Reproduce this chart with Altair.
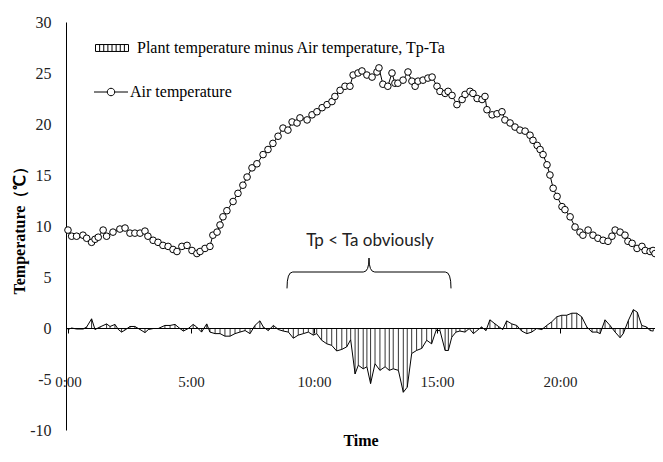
import altair as alt
import pandas as pd

# ---- data ----
ta_time = [0.00, 0.15, 0.35, 0.61, 0.76, 0.96, 1.10, 1.23, 1.43, 1.57,
           1.83, 2.11, 2.32, 2.52, 2.72, 2.93, 3.13, 3.25, 3.46, 3.66,
           3.86, 4.07, 4.27, 4.43, 4.63, 4.84, 5.04, 5.24, 5.37, 5.57,
           5.77, 5.89, 6.06, 6.18, 6.30, 6.46, 6.71, 6.91, 7.11, 7.28,
           7.48, 7.68, 7.93, 8.13, 8.33, 8.54, 8.74, 8.94, 9.11, 9.31,
           9.43, 9.72, 9.92, 10.12, 10.33, 10.53, 10.73, 10.85, 11.06, 11.26,
           11.46, 11.59, 11.79, 11.95, 12.15, 12.36, 12.56, 12.64, 12.80, 13.00,
           13.17, 13.29, 13.41, 13.62, 13.82, 13.98, 14.11, 14.23, 14.43, 14.63,
           14.80, 15.00, 15.12, 15.33, 15.45, 15.61, 15.81, 16.02, 16.14, 16.34,
           16.46, 16.63, 16.83, 16.95, 17.03, 17.24, 17.44, 17.64, 17.76, 17.97,
           18.17, 18.37, 18.58, 18.78, 18.90, 19.07, 19.19, 19.31, 19.47, 19.59,
           19.72, 19.88, 20.08, 20.20, 20.41, 20.61, 20.81, 20.93, 21.14, 21.34,
           21.54, 21.75, 21.95, 22.11, 22.24, 22.44, 22.64, 22.76, 22.93, 23.13,
           23.33, 23.46, 23.66, 23.78, 23.86]
ta_vals = [9.6, 9.0, 9.0, 9.1, 8.8, 8.4, 8.7, 8.9, 9.6, 9.0,
           9.4, 9.7, 9.8, 9.3, 9.3, 9.3, 9.5, 9.0, 8.6, 8.4,
           8.1, 8.0, 7.7, 7.5, 8.0, 8.1, 7.6, 7.3, 7.5, 7.8,
           8.0, 9.1, 9.4, 10.1, 10.9, 11.5, 12.4, 13.2, 14.0, 14.8,
           15.7, 16.1, 17.0, 17.5, 18.1, 18.8, 19.6, 19.4, 20.2, 20.1,
           20.6, 20.4, 20.9, 21.2, 21.6, 21.9, 22.2, 22.7, 23.3, 23.7,
           23.7, 24.8, 25.0, 25.2, 24.8, 24.6, 25.1, 25.5, 23.9, 23.7,
           25.0, 24.0, 24.0, 24.3, 25.1, 24.2, 23.7, 24.2, 24.3, 24.5,
           24.6, 23.7, 23.2, 23.0, 23.2, 22.8, 21.9, 22.4, 22.9, 23.2,
           23.0, 22.5, 22.4, 22.7, 21.4, 20.9, 21.0, 21.2, 20.4, 20.1,
           19.7, 19.4, 19.3, 18.9, 18.4, 17.9, 17.5, 17.0, 16.0, 15.0,
           13.7, 12.9, 11.9, 11.6, 10.9, 9.9, 9.4, 9.1, 9.6, 9.1,
           8.8, 8.6, 8.5, 9.0, 9.6, 9.4, 9.1, 8.5, 8.3, 7.8,
           8.0, 7.6, 7.5, 7.6, 7.3]

d_time = [0.00, 0.15, 0.35, 0.62, 0.76, 0.96, 1.10, 1.30, 1.57, 1.71,
          1.91, 2.05, 2.18, 2.32, 2.52, 2.72, 2.93, 3.13, 3.27, 3.47,
          3.67, 3.94, 4.15, 4.35, 4.55, 4.69, 4.89, 5.09, 5.23, 5.43,
          5.64, 5.77, 5.98, 6.18, 6.38, 6.59, 6.79, 6.99, 7.20, 7.40,
          7.60, 7.80, 7.94, 8.14, 8.35, 8.55, 8.75, 8.96, 9.16, 9.36,
          9.57, 9.77, 9.97, 10.11, 10.31, 10.52, 10.72, 10.92, 11.13, 11.33,
          11.49, 11.67, 11.80, 12.00, 12.15, 12.30, 12.48, 12.68, 12.89, 13.06,
          13.22, 13.43, 13.63, 13.79, 13.97, 14.17, 14.38, 14.58, 14.78, 14.96,
          15.12, 15.33, 15.46, 15.60, 15.77, 15.93, 16.14, 16.31, 16.48, 16.68,
          16.81, 16.99, 17.15, 17.36, 17.50, 17.67, 17.83, 18.04, 18.24, 18.44,
          18.65, 18.85, 19.05, 19.26, 19.46, 19.66, 19.87, 20.07, 20.27, 20.48,
          20.68, 20.88, 21.09, 21.30, 21.50, 21.63, 21.83, 22.03, 22.24, 22.44,
          22.57, 22.78, 22.98, 23.14, 23.32, 23.52, 23.66, 23.79]
d_vals = [-0.15, 0.0, -0.1, -0.1, 0.1, 0.9, -0.15, 0.1, 0.4, 0.15,
          0.35, -0.15, -0.4, -0.2, 0.15, 0.15, -0.15, -0.45, -0.15, -0.05,
          -0.05, 0.25, 0.25, 0.35, -0.05, -0.3, -0.05, 0.35, 0.1, -0.4,
          0.4, -0.4, -0.55, -0.55, -0.8, -0.8, -0.55, -0.4, -0.25, -0.55,
          0.25, 0.7, 0.1, -0.25, 0.25, -0.15, -0.3, -0.4, -1.0, -0.7,
          -0.55, -0.4, -0.7, -0.55, -1.2, -1.55, -1.7, -2.25, -2.1, -1.85,
          -1.15, -4.5, -3.65, -4.0, -3.8, -5.45, -3.5, -4.15, -3.8, -4.15,
          -4.0, -4.15, -6.3, -5.8, -2.5, -2.2, -2.0, -1.2, -1.55, -0.25,
          -0.25, -2.2, -2.2, -0.9, -0.4, -0.3, -0.4, -0.05, -0.55, -0.15,
          0.1, -0.25, 0.8, 0.4, 0.15, -0.15, 0.7, 0.4, 0.25, -0.3,
          -0.55, -0.4, -0.05, -0.15, 0.25, 0.6, 1.1, 1.25, 1.25, 1.45,
          1.45, 1.1, 0.1, -0.4, -0.4, -0.55, 0.8, 0.25, -0.4, -0.95,
          -0.55, 0.75, 1.8, 1.55, 0.25, 0.1, -0.25, -0.3]

x_ticks = [0, 5, 10, 15, 20]
y_ticks = [-10, -5, 0, 5, 10, 15, 20, 25, 30]
legend_labels = ["Plant temperature minus Air temperature, Tp-Ta", "Air temperature"]
annotation_text = ["Tp < Ta obviously"]

ta_df = pd.DataFrame({"t": ta_time, "v": ta_vals})
d_df = pd.DataFrame({"t": d_time, "v": d_vals})
leg1_df = pd.DataFrame({"label": [legend_labels[0]]})
leg2_df = pd.DataFrame({"label": [legend_labels[1]]})
ann_df = pd.DataFrame({"label": annotation_text})

SERIF = "Liberation Serif"

x_enc = alt.X(
    "t:Q",
    scale=alt.Scale(domain=[-0.08, 23.86], nice=False, zero=False),
    axis=alt.Axis(
        values=x_ticks, labelExpr="datum.value + ':00'", title="Time",
        offset=-102, grid=False, domainColor="black", domainWidth=1,
        ticks=True, tickColor="black", tickSize=5,
        labelFont=SERIF, labelFontSize=15, labelColor="#222",
        labelPadding=41, labelFlush=False, labelOverlap=False,
        titleFont=SERIF, titleFontSize=16, titleFontWeight="bold", titleColor="black",
        titleY=112, titleBaseline="middle",
    ),
)
y_enc = alt.Y(
    "v:Q",
    scale=alt.Scale(domain=[-10, 30], nice=False, zero=False),
    axis=alt.Axis(
        values=y_ticks, labelExpr="datum.value + ''", grid=False, ticks=False,
        domainColor="black", domainWidth=1,
        labelFont=SERIF, labelFontSize=16, labelColor="#222", labelPadding=15,
        title="Temperature（℃）", titleFont=SERIF, titleFontSize=16,
        titleFontWeight="bold", titleColor="black",
        titleX=-47, titleBaseline="middle", titleAlign="center",
    ),
)

rules = alt.Chart(d_df).mark_rule(color="black", strokeWidth=0.8).encode(
    x=x_enc, y=y_enc, y2=alt.datum(0)
)
d_line = alt.Chart(d_df).mark_line(color="black", strokeWidth=1).encode(x=x_enc, y=y_enc)
ta_line = alt.Chart(ta_df).mark_line(color="black", strokeWidth=1).encode(x=x_enc, y=y_enc)
ta_pts = alt.Chart(ta_df).mark_point(
    shape="circle", filled=True, fill="white", stroke="black", strokeWidth=1,
    size=44, opacity=1
).encode(x=x_enc, y=y_enc)

HATCH = ("M-1,-0.21H1V0.21H-1Z"
         "M-0.75,-0.21V0.21M-0.5,-0.21V0.21M-0.25,-0.21V0.21M0,-0.21V0.21"
         "M0.25,-0.21V0.21M0.5,-0.21V0.21M0.75,-0.21V0.21")
LINEPT = ("M-1,0H-0.22M0.22,0H1"
          "M-0.22,0A0.22,0.22,0,1,1,0.22,0A0.22,0.22,0,1,1,-0.22,0Z")
BRACE = ("M-1,0.2Q-1,0,-0.93,0L-0.07,0Q0,0,0,-0.17"
         "Q0,0,0.07,0L0.93,0Q1,0,1,0.2")

leg1_sym = alt.Chart(leg1_df).mark_point(
    shape=HATCH, size=33 * 33, filled=False, stroke="black", strokeWidth=1, opacity=1
).encode(x=alt.value(46), y=alt.value(26))
leg1_txt = alt.Chart(leg1_df).mark_text(
    font=SERIF, fontSize=16, color="black", align="left", baseline="middle"
).encode(text="label:N", x=alt.value(71), y=alt.value(26))
leg2_sym = alt.Chart(leg2_df).mark_point(
    shape=LINEPT, size=34 * 34, filled=False, stroke="black", strokeWidth=1, opacity=1
).encode(x=alt.value(45), y=alt.value(70))
leg2_txt = alt.Chart(leg2_df).mark_text(
    font=SERIF, fontSize=16, color="black", align="left", baseline="middle"
).encode(text="label:N", x=alt.value(64), y=alt.value(70))

ann_txt = alt.Chart(ann_df).mark_text(
    font="Lato", fontSize=17, color="#222", align="center", baseline="middle"
).encode(text="label:N", x=alt.value(304), y=alt.value(219))
brace = alt.Chart(ann_df).mark_point(
    shape=BRACE, size=164 * 164, filled=False, stroke="black", strokeWidth=1, opacity=1
).encode(x=alt.value(303), y=alt.value(250))

chart = alt.layer(
    rules, d_line, ta_line, ta_pts, leg1_sym, leg1_txt, leg2_sym, leg2_txt, ann_txt, brace
).properties(
    width=589, height=408,
    autosize=alt.AutoSizeParams(type="none"),
    padding={"left": 58, "top": 14, "right": 0, "bottom": 24},
    background="white",
).configure_view(strokeWidth=0)

chart.save("out.html", embed_options={"renderer": "svg", "actions": False})
